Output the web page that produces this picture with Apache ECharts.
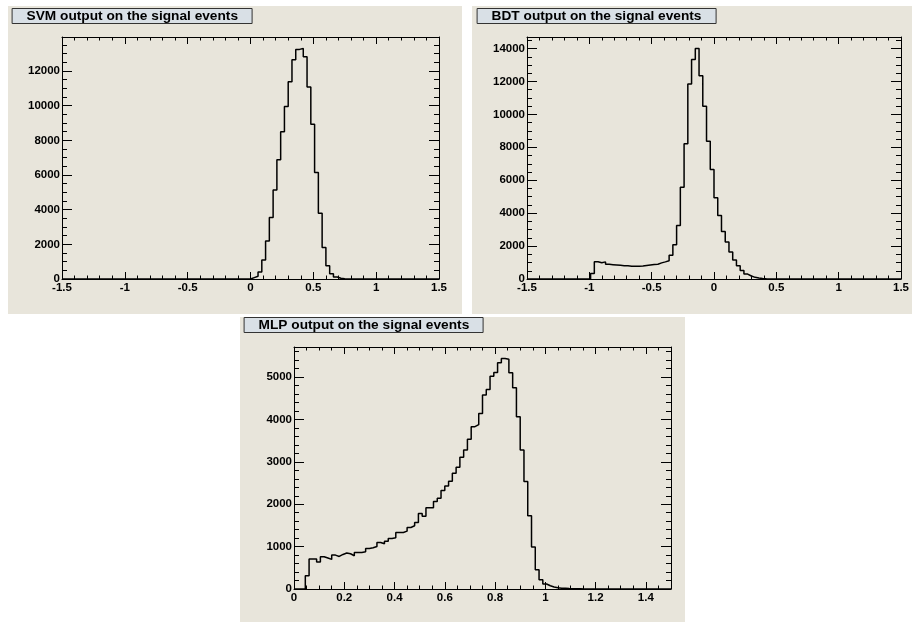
<!DOCTYPE html>
<html><head><meta charset="utf-8">
<script src="https://cdn.jsdelivr.net/npm/echarts@6/dist/echarts.min.js"></script>
<style>html,body{margin:0;padding:0;background:#fff}#c{width:912px;height:622px}</style>
</head><body><div id="c"></div>
<script>
// ---------- data ----------
const titles = ['SVM output on the signal events', 'BDT output on the signal events', 'MLP output on the signal events'];
const svmRange = [-1.5, 1.5];
const bdtRange = [-1.5, 1.5];
const mlpRange = [0, 1.5];
// 100 bins each
const svmCounts = [
  0,0,0,0,0,0,0,0,0,0, 0,0,0,0,0,0,0,0,0,0,
  0,0,0,0,0,0,0,0,0,0, 0,0,0,0,0,0,0,0,0,0,
  0,0,0,0,0,0,0,0,0,0,
  80,160,400,1090,2200,3550,5130,6880,8500,9950,
  11380,12650,13250,13300,12830,11080,8930,6140,3800,1820,
  770,310,115,40,12,4,0,0,0,0,
  0,0,0,0,0,0,0,0,0,0, 0,0,0,0,0,0,0,0,0,0
];
const bdtCounts = [
  0,0,0,0,0,0,0,0,0,0, 0,0,0,0,0,0,0,
  340,1050,990,1040,890,870,850,830,810,800,780,770,770,790,820,850,880,900,
  980,1040,1110,1450,2080,3250,5580,8220,11840,13330,14000,12340,10500,8360,6650,
  4930,3860,2890,2240,1640,1150,810,515,300,180,100,60,35,15,6,
  0,0,0,0,0,0,0,0,0,0, 0,0,0,0,0,0,0,0,0,0, 0,0,0,0,0,0,0,0,0,0, 0,0,0,0,0
];
const mlpCounts = [
  0,0,0,310,706,706,636,761,730,699,
  800,769,816,848,832,785,863,863,879,958,
  973,1005,1099,1068,1130,1193,1209,1335,1335,1366,
  1452,1492,1570,1782,1719,1915,1915,2065,2143,2324,
  2434,2543,2732,2873,3109,3281,3533,3831,3878,4145,
  4577,4710,5024,5110,5338,5440,5424,5103,4749,4066,
  3281,2536,1727,989,455,220,118,78,47,31,
  20,15,10,8,5,3,0,0,0,0,
  0,0,0,0,0,0,0,0,0,0, 0,0,0,0,0,0,0,0,0,0
];
// axis tick steps [major, minor] and y maxima
const xTickSteps = [[0.5, 0.1], [0.5, 0.1], [0.2, 0.05]];
const yTickSteps = [[2000, 500], [2000, 500], [1000, 200]];
const yMax = [13965, 14700, 5712];

// ---------- layout / style ----------
const FONT = 'Liberation Sans, Arial, sans-serif';
const BEIGE = '#e8e5db';
const grids = [
  {left: 62, top: 37, width: 377, height: 242},
  {left: 527, top: 37, width: 376, height: 242},
  {left: 294, top: 347, width: 377, height: 242}
];
const titlePos = [{left: 12, top: 8}, {left: 477, top: 8}, {left: 244, top: 317}];
const panels = [
  {x: 8, y: 6, width: 454, height: 308},
  {x: 472, y: 6, width: 440, height: 308},
  {x: 240, y: 317, width: 445, height: 305}
];

function isMajor(v, step) { const r = v / step; return Math.abs(r - Math.round(r)) < 1e-6; }

const xAxes = [], yAxes = [], series = [];
const ranges = [svmRange, bdtRange, mlpRange];
const counts = [svmCounts, bdtCounts, mlpCounts];

for (let g = 0; g < 3; g++) {
  const [xmin, xmax] = ranges[g];
  const [xMaj, xMin] = xTickSteps[g];
  const [yMaj, yMin] = yTickSteps[g];
  const base = {type: 'value', gridIndex: g, splitLine: {show: false}, silent: true};
  const line = {show: true, onZero: false, lineStyle: {color: '#000', width: 1}};
  const noLine = {show: false, onZero: false};
  const lbl = (step, margin) => ({
    show: true, margin: margin, color: '#000', fontSize: 11.5, fontWeight: 'bold', fontFamily: FONT,
    showMinLabel: true, showMaxLabel: true,
    formatter: v => isMajor(v, step) ? String(+v.toFixed(6)) : ''
  });
  const tick = len => ({show: true, inside: true, length: len, lineStyle: {color: '#000', width: 1}});
  // x axes: bottom major, bottom minor, top major, top minor
  xAxes.push(Object.assign({}, base, {position: 'bottom', min: xmin, max: xmax, interval: xMaj,
    axisLine: line, axisTick: tick(7), axisLabel: lbl(xMaj, 3)}));
  xAxes.push(Object.assign({}, base, {position: 'bottom', min: xmin, max: xmax, interval: xMin,
    axisLine: noLine, axisTick: tick(3.5), axisLabel: {show: false}}));
  xAxes.push(Object.assign({}, base, {position: 'top', min: xmin, max: xmax, interval: xMaj,
    axisLine: line, axisTick: tick(7), axisLabel: {show: false}}));
  xAxes.push(Object.assign({}, base, {position: 'top', min: xmin, max: xmax, interval: xMin,
    axisLine: noLine, axisTick: tick(3.5), axisLabel: {show: false}}));
  // y axes: left major, left minor, right major, right minor
  yAxes.push(Object.assign({}, base, {position: 'left', min: 0, max: yMax[g], interval: yMaj,
    axisLine: line, axisTick: tick(10), axisLabel: lbl(yMaj, 2)}));
  yAxes.push(Object.assign({}, base, {position: 'left', min: 0, max: yMax[g], interval: yMin,
    axisLine: noLine, axisTick: tick(5), axisLabel: {show: false}}));
  yAxes.push(Object.assign({}, base, {position: 'right', min: 0, max: yMax[g], interval: yMaj,
    axisLine: line, axisTick: tick(10), axisLabel: {show: false}}));
  yAxes.push(Object.assign({}, base, {position: 'right', min: 0, max: yMax[g], interval: yMin,
    axisLine: noLine, axisTick: tick(5), axisLabel: {show: false}}));

  const n = counts[g].length, w = (xmax - xmin) / n;
  const data = counts[g].map((c, i) => [xmin + i * w, c]);
  data.push([xmax, 0]);
  series.push({
    type: 'line', xAxisIndex: g * 4, yAxisIndex: g * 4, data: data, step: 'end',
    showSymbol: false, symbol: 'none', silent: true, clip: true,
    lineStyle: {color: '#000', width: 1.5}, z: 3
  });
}

const chart = echarts.init(document.getElementById('c'), null, {renderer: 'canvas'});
chart.setOption({
  backgroundColor: '#ffffff',
  animation: false,
  grid: grids.map(g => Object.assign({containLabel: false}, g)),
  xAxis: xAxes,
  yAxis: yAxes,
  series: series,
  title: titles.map((t, i) => ({
    text: t, left: titlePos[i].left, top: titlePos[i].top,
    padding: [0, 14.6], backgroundColor: '#d9e0e6', borderColor: '#333', borderWidth: 1,
    textStyle: {fontSize: 13.7, fontWeight: 'bold', fontFamily: FONT, color: '#000', lineHeight: 16}
  })),
  graphic: panels.map(p => ({type: 'rect', z: -100, silent: true, shape: p, style: {fill: BEIGE}}))
});
</script>
</body></html>
